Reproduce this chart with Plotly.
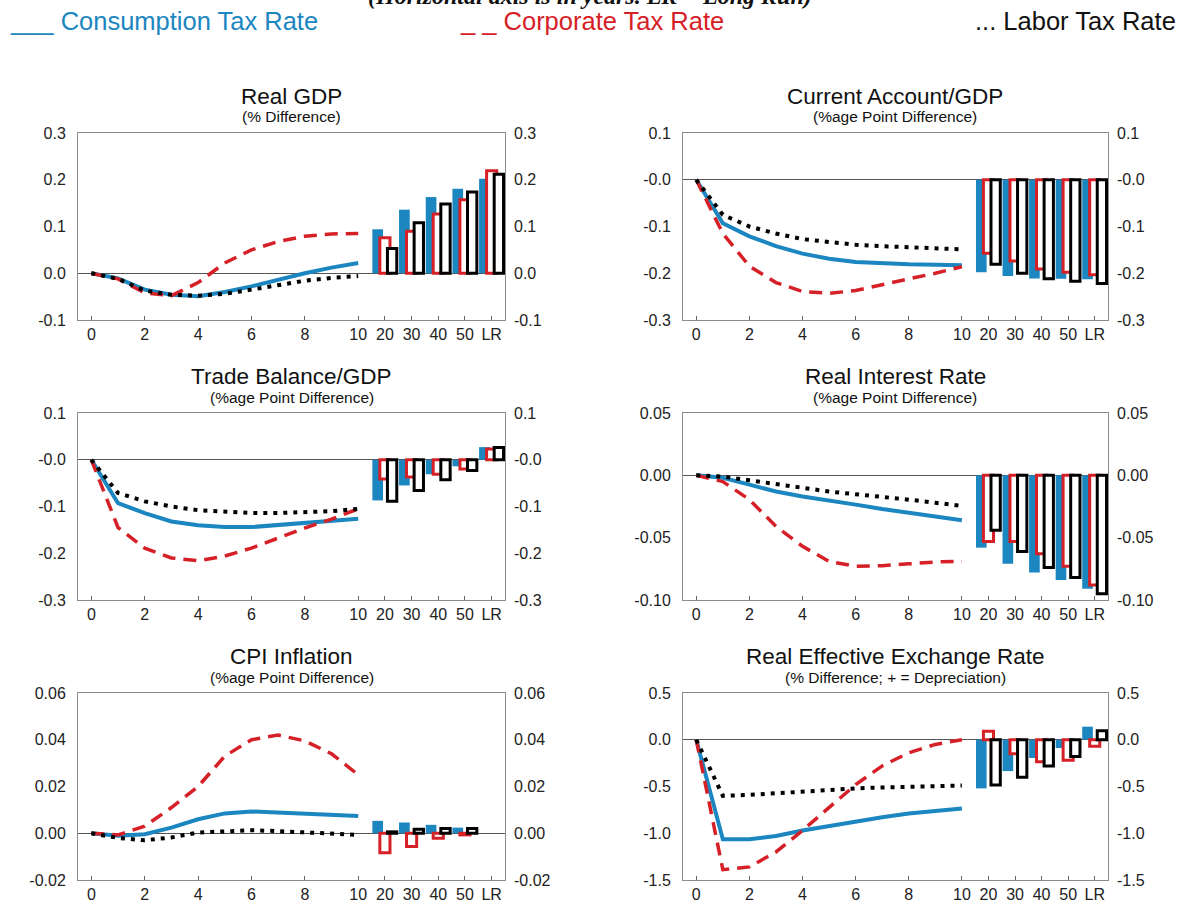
import plotly.graph_objects as go

# ---------------- data ----------------
years = list(range(11))
bar_labels = ["20", "30", "40", "50", "LR"]
series_names = ["Consumption Tax Rate", "Corporate Tax Rate", "Labor Tax Rate"]

# Real GDP (% difference)
gdp_cons = [0, -0.011, -0.035, -0.046, -0.049, -0.040, -0.028, -0.013, 0.000, 0.012, 0.022]
gdp_corp = [0, -0.012, -0.042, -0.048, -0.020, 0.022, 0.050, 0.068, 0.079, 0.084, 0.085]
gdp_labor = [0, -0.012, -0.037, -0.046, -0.048, -0.044, -0.035, -0.025, -0.016, -0.010, -0.006]
gdp_cons_bar = [0.094, 0.136, 0.163, 0.181, 0.202]
gdp_corp_bar = [0.076, 0.090, 0.127, 0.157, 0.219]
gdp_labor_bar = [0.053, 0.108, 0.148, 0.174, 0.212]

# Current account / GDP
ca_cons = [0, -0.093, -0.121, -0.142, -0.158, -0.169, -0.176, -0.179, -0.181, -0.182, -0.183]
ca_corp = [0, -0.115, -0.185, -0.220, -0.239, -0.243, -0.237, -0.224, -0.212, -0.200, -0.186]
ca_labor = [0, -0.075, -0.100, -0.115, -0.127, -0.134, -0.139, -0.142, -0.145, -0.147, -0.149]
ca_cons_bar = [-0.198, -0.206, -0.211, -0.212, -0.213]
ca_corp_bar = [-0.157, -0.174, -0.191, -0.198, -0.203]
ca_labor_bar = [-0.181, -0.200, -0.212, -0.217, -0.222]

# Trade balance / GDP
tb_cons = [0, -0.093, -0.114, -0.132, -0.140, -0.144, -0.144, -0.140, -0.135, -0.130, -0.126]
tb_corp = [0, -0.145, -0.189, -0.210, -0.216, -0.206, -0.189, -0.167, -0.146, -0.127, -0.105]
tb_labor = [0, -0.071, -0.089, -0.100, -0.108, -0.112, -0.114, -0.114, -0.112, -0.110, -0.105]
tb_cons_bar = [-0.087, -0.055, -0.031, -0.014, 0.027]
tb_corp_bar = [-0.041, -0.037, -0.031, -0.020, 0.023]
tb_labor_bar = [-0.089, -0.066, -0.043, -0.023, 0.026]

# Real interest rate
ri_cons = [0, -0.002, -0.0075, -0.013, -0.017, -0.020, -0.0235, -0.027, -0.030, -0.0335, -0.036]
ri_corp = [0, -0.005, -0.0195, -0.041, -0.057, -0.069, -0.073, -0.0725, -0.071, -0.0695, -0.069]
ri_labor = [0, -0.001, -0.004, -0.0067, -0.010, -0.013, -0.015, -0.0175, -0.0195, -0.022, -0.0245]
ri_cons_bar = [-0.058, -0.071, -0.078, -0.084, -0.091]
ri_corp_bar = [-0.053, -0.053, -0.063, -0.073, -0.088]
ri_labor_bar = [-0.044, -0.061, -0.074, -0.082, -0.095]

# CPI inflation
cpi_cons = [0, -0.0011, -0.0004, 0.0024, 0.0060, 0.0085, 0.0093, 0.0088, 0.0084, 0.0078, 0.0074]
cpi_corp = [0, -0.0007, 0.0030, 0.0110, 0.0200, 0.0330, 0.0400, 0.0420, 0.0395, 0.0340, 0.0250]
cpi_labor = [0, -0.0020, -0.0030, -0.0018, 0.0003, 0.0010, 0.0013, 0.0009, 0.0003, -0.0003, -0.0007]
cpi_cons_bar = [0.0053, 0.0046, 0.0036, 0.0024, None]
cpi_corp_bar = [-0.0083, -0.0057, -0.0021, -0.0007, None]
cpi_labor_bar = [0.0006, 0.0017, 0.0020, 0.0020, None]

# Real effective exchange rate
reer_cons = [0, -1.065, -1.065, -1.030, -0.970, -0.920, -0.875, -0.830, -0.790, -0.765, -0.735]
reer_corp = [0, -1.390, -1.360, -1.200, -0.970, -0.720, -0.480, -0.280, -0.140, -0.050, 0.000]
reer_labor = [0, -0.600, -0.590, -0.570, -0.560, -0.540, -0.520, -0.510, -0.505, -0.495, -0.490]
reer_cons_bar = [-0.520, -0.335, -0.195, -0.088, 0.140]
reer_corp_bar = [0.090, -0.150, -0.235, -0.220, -0.070]
reer_labor_bar = [-0.485, -0.400, -0.280, -0.180, 0.095]

titles = ["Real GDP", "Current Account/GDP", "Trade Balance/GDP",
          "Real Interest Rate", "CPI Inflation", "Real Effective Exchange Rate"]
subtitles = ["(% Difference)", "(%age Point Difference)", "(%age Point Difference)",
             "(%age Point Difference)", "(%age Point Difference)",
             "(% Difference; + = Depreciation)"]

gdp_ticks = [0.3, 0.2, 0.1, 0.0, -0.1]
gdp_ticktext = ["0.3", "0.2", "0.1", "0.0", "-0.1"]
ca_ticks = [0.1, 0.0, -0.1, -0.2, -0.3]
ca_ticktext = ["0.1", "-0.0", "-0.1", "-0.2", "-0.3"]
ri_ticks = [0.05, 0.0, -0.05, -0.10]
ri_ticktext = ["0.05", "0.00", "-0.05", "-0.10"]
cpi_ticks = [0.06, 0.04, 0.02, 0.0, -0.02]
cpi_ticktext = ["0.06", "0.04", "0.02", "0.00", "-0.02"]
reer_ticks = [0.5, 0.0, -0.5, -1.0, -1.5]
reer_ticktext = ["0.5", "0.0", "-0.5", "-1.0", "-1.5"]

year_ticks = [0, 2, 4, 6, 8, 10]

# ---------------- styling ----------------
BLUE = "#1B86BF"
RED = "#D62027"
BLACK = "#000000"
FONT = "Liberation Sans"
W, H = 1189, 902
TICK_SIZE = 16

panels = [
    (gdp_cons, gdp_corp, gdp_labor, gdp_cons_bar, gdp_corp_bar, gdp_labor_bar, [-0.1, 0.3], gdp_ticks, gdp_ticktext),
    (ca_cons, ca_corp, ca_labor, ca_cons_bar, ca_corp_bar, ca_labor_bar, [-0.3, 0.1], ca_ticks, ca_ticktext),
    (tb_cons, tb_corp, tb_labor, tb_cons_bar, tb_corp_bar, tb_labor_bar, [-0.3, 0.1], ca_ticks, ca_ticktext),
    (ri_cons, ri_corp, ri_labor, ri_cons_bar, ri_corp_bar, ri_labor_bar, [-0.10, 0.05], ri_ticks, ri_ticktext),
    (cpi_cons, cpi_corp, cpi_labor, cpi_cons_bar, cpi_corp_bar, cpi_labor_bar, [-0.02, 0.06], cpi_ticks, cpi_ticktext),
    (reer_cons, reer_corp, reer_labor, reer_cons_bar, reer_corp_bar, reer_labor_bar, [-1.5, 0.5], reer_ticks, reer_ticktext),
]

col_px = [(78, 505), (683, 1108)]
row_px = [(133, 320), (413, 600), (693, 880)]

bar_x = [len(years) + i for i in range(len(bar_labels))]
xtickvals = year_ticks + bar_x
xticktext = [str(v) for v in year_ticks] + bar_labels

fig = go.Figure()
layout = dict(
    width=W, height=H,
    margin=dict(l=0, r=0, t=0, b=0, pad=0, autoexpand=False),
    paper_bgcolor="white", plot_bgcolor="white",
    showlegend=False, barmode="overlay",
    font=dict(family=FONT, color="#222222"),
)
annotations = []

BW_BLUE, BW_RED, BW_BLACK = 0.40, 0.38, 0.35
for i, (c, k, l, cb, kb, lb, yr, tv, tt) in enumerate(panels):
    n = i + 1
    r, col = divmod(i, 2)
    x0, x1 = col_px[col]
    y0, y1 = row_px[r]
    xa = "x" if n == 1 else f"x{n}"
    ya = "y" if n == 1 else f"y{n}"
    ya2 = f"y{n + 6}"

    # bars
    fig.add_trace(go.Bar(x=bar_x, y=cb, xaxis=xa, yaxis=ya, width=BW_BLUE, offset=-0.27 - BW_BLUE / 2,
                         marker=dict(color=BLUE, line=dict(width=0)), name=series_names[0]))
    fig.add_trace(go.Bar(x=bar_x, y=kb, xaxis=xa, yaxis=ya, width=BW_RED, offset=-BW_RED / 2,
                         marker=dict(color="white", line=dict(color=RED, width=3)), name=series_names[1]))
    fig.add_trace(go.Bar(x=bar_x, y=lb, xaxis=xa, yaxis=ya, width=BW_BLACK, offset=0.27 - BW_BLACK / 2,
                         marker=dict(color="white", line=dict(color=BLACK, width=3)), name=series_names[2]))
    # lines
    fig.add_trace(go.Scatter(x=years, y=c, xaxis=xa, yaxis=ya, mode="lines",
                             line=dict(color=BLUE, width=4), name=series_names[0]))
    fig.add_trace(go.Scatter(x=years, y=k, xaxis=xa, yaxis=ya, mode="lines",
                             line=dict(color=RED, width=3.5, dash="13px,8px"), name=series_names[1]))
    fig.add_trace(go.Scatter(x=years, y=l, xaxis=xa, yaxis=ya, mode="lines",
                             line=dict(color=BLACK, width=4, dash="4px,6px"), name=series_names[2]))
    # dummy for right axis
    fig.add_trace(go.Scatter(x=[None], y=[None], xaxis=xa, yaxis=ya2, mode="lines", hoverinfo="skip"))

    xdom = [x0 / W, x1 / W]
    ydom = [1 - y1 / H, 1 - y0 / H]
    layout["xaxis" + ("" if n == 1 else str(n))] = dict(
        domain=xdom, anchor=ya, range=[-0.5, 15.5], automargin=False,
        tickvals=xtickvals, ticktext=xticktext,
        ticks="inside", ticklen=4, tickcolor="#666666", tickwidth=1,
        showline=True, mirror=True, linecolor="#8c8c8c", linewidth=1,
        showgrid=False, zeroline=False,
        tickfont=dict(size=TICK_SIZE, family=FONT, color="#222222"),
    )
    layout["yaxis" + ("" if n == 1 else str(n))] = dict(
        domain=ydom, anchor=xa, range=yr, automargin=False,
        tickvals=tv, ticktext=tt, ticks="",
        showline=True, mirror=True, linecolor="#8c8c8c", linewidth=1,
        showgrid=False, zeroline=True, zerolinecolor="#555555", zerolinewidth=1,
        ticklabelstandoff=8,
        tickfont=dict(size=TICK_SIZE, family=FONT, color="#222222"),
    )
    layout[f"yaxis{n + 6}"] = dict(
        domain=ydom, anchor=xa, overlaying=ya, side="right", range=yr, automargin=False,
        tickvals=tv, ticktext=tt, ticks="",
        showline=False, showgrid=False, zeroline=False,
        ticklabelstandoff=8,
        tickfont=dict(size=TICK_SIZE, family=FONT, color="#222222"),
    )
    cx = (x0 + x1) / 2 / W
    annotations.append(dict(text=titles[i], x=cx, y=1 - (y0 - 37) / H, xref="paper", yref="paper",
                            showarrow=False, xanchor="center", yanchor="middle",
                            font=dict(size=22.5, family=FONT, color="#111111")))
    annotations.append(dict(text=subtitles[i], x=cx, y=1 - (y0 - 16) / H, xref="paper", yref="paper",
                            showarrow=False, xanchor="center", yanchor="middle",
                            font=dict(size=15.5, family=FONT, color="#111111")))

# header (cut at the top edge as in the source image)
annotations.append(dict(text="<b><i>(Horizontal axis is in years. LR = Long Run)</i></b>",
                        x=590 / W, y=1 + 4 / H, xref="paper", yref="paper", showarrow=False,
                        xanchor="center", yanchor="middle",
                        font=dict(size=24, family="Liberation Serif", color="#111111")))
annotations.append(dict(text="___ " + series_names[0], x=8 / W, y=1 - 21 / H, xref="paper", yref="paper",
                        showarrow=False, xanchor="left", yanchor="middle",
                        font=dict(size=25.5, family=FONT, color=BLUE)))
annotations.append(dict(text="_ _ " + series_names[1], x=458 / W, y=1 - 21 / H, xref="paper", yref="paper",
                        showarrow=False, xanchor="left", yanchor="middle",
                        font=dict(size=25.5, family=FONT, color=RED)))
annotations.append(dict(text="... " + series_names[2], x=1178 / W, y=1 - 21 / H, xref="paper", yref="paper",
                        showarrow=False, xanchor="right", yanchor="middle",
                        font=dict(size=25.5, family=FONT, color="#111111")))

layout["annotations"] = annotations
fig.update_layout(**layout)
fig.write_html("out.html", config={"displayModeBar": False},
               post_script="document.body.style.margin='0';document.body.style.overflow='hidden';")
